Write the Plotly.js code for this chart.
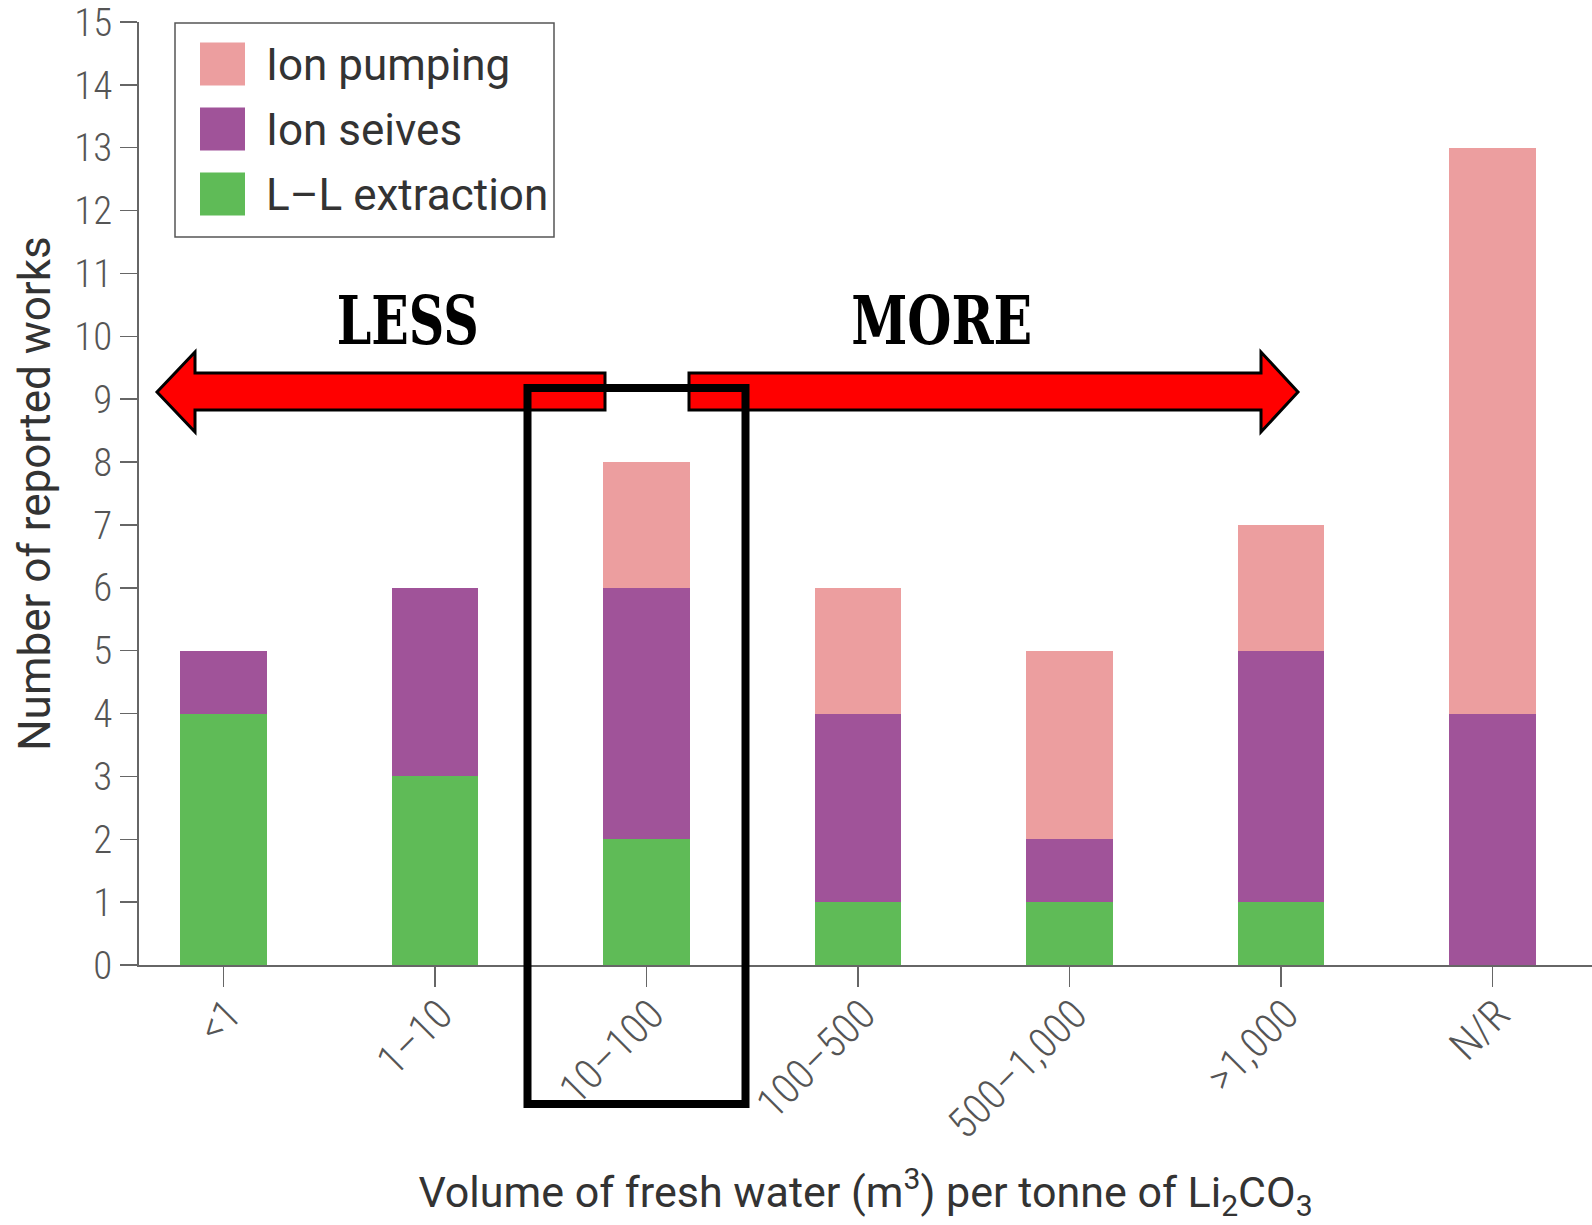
<!DOCTYPE html>
<html><head><meta charset="utf-8">
<script src="https://cdn.plot.ly/plotly-3.0.1.min.js"></script>
<style>html,body{margin:0;padding:0;background:#fff;} #chart{width:1592px;height:1225px;}</style>
</head><body><div id="chart"></div>
<script>
// ---- data ----
const categories = ["<1", "1–10", "10–100", "100–500", "500–1,000", ">1,000", "N/R"];
const llExtraction = [4, 3, 2, 1, 1, 1, 0];
const ionSeives   = [1, 3, 4, 3, 1, 4, 4];
const ionPumping  = [0, 0, 2, 2, 3, 2, 9];
const seriesNames = ["Ion pumping", "Ion seives", "L–L extraction"];
const seriesColors = ["#EC9E9F", "#A05399", "#5FBB57"];
const yTickVals = [0,1,2,3,4,5,6,7,8,9,10,11,12,13,14,15];
const xTitle = "Volume of fresh water (m<sup>3</sup>) per tonne of Li<sub>2</sub>CO<sub>3</sub>";
const yTitle = "Number of reported works";
const lessLabel = "LESS";
const moreLabel = "MORE";

// ---- layout geometry (pixels) ----
const W = 1592, H = 1225;
const mL = 139, mR = 0, mT = 22, mB = 260;
const pw = W - mL - mR, ph = H - mT - mB;
const px = x => (x - mL) / pw;
const py = y => (H - mB - y) / ph;

const NARROW = "Liberation Sans Narrow, Roboto Condensed, Roboto, Arial, sans-serif";
const REG = "Roboto, Liberation Sans, Arial, sans-serif";
const axisCol = "#666";

const traces = [
  {type: "bar", name: seriesNames[2], x: categories, y: llExtraction, marker: {color: seriesColors[2]}},
  {type: "bar", name: seriesNames[1], x: categories, y: ionSeives, marker: {color: seriesColors[1]}},
  {type: "bar", name: seriesNames[0], x: categories, y: ionPumping, marker: {color: seriesColors[0]}}
];

const shapes = [];
const annotations = [];

// legend box
shapes.push({type: "rect", xref: "paper", yref: "paper", x0: px(175), x1: px(554), y0: py(23), y1: py(237),
  line: {color: "#555", width: 1.5}, fillcolor: "rgba(0,0,0,0)"});
const rowY = [64, 129, 194];
for (let i = 0; i < 3; i++) {
  shapes.push({type: "rect", xref: "paper", yref: "paper", x0: px(200), x1: px(245),
    y0: py(rowY[i] - 21.5), y1: py(rowY[i] + 21.5), line: {width: 0}, fillcolor: seriesColors[i]});
  annotations.push({xref: "paper", yref: "paper", x: px(264), y: py(rowY[i] + 1), xanchor: "left", yanchor: "middle",
    text: seriesNames[i], showarrow: false, font: {family: REG, size: 44, color: "#333"}});
}

// arrows
const leftArrow = `M ${px(157)} ${py(392)} L ${px(195)} ${py(352)} L ${px(195)} ${py(373)} L ${px(605)} ${py(373)} L ${px(605)} ${py(410)} L ${px(195)} ${py(410)} L ${px(195)} ${py(432)} Z`;
const rightArrow = `M ${px(1298)} ${py(392)} L ${px(1261)} ${py(352)} L ${px(1261)} ${py(373)} L ${px(689)} ${py(373)} L ${px(689)} ${py(410)} L ${px(1261)} ${py(410)} L ${px(1261)} ${py(432)} Z`;
shapes.push({type: "path", xref: "paper", yref: "paper", path: leftArrow, fillcolor: "#FF0000", line: {color: "#000", width: 3}});
shapes.push({type: "path", xref: "paper", yref: "paper", path: rightArrow, fillcolor: "#FF0000", line: {color: "#000", width: 3}});

// highlight rectangle
shapes.push({type: "rect", xref: "paper", yref: "paper", x0: px(527.5), x1: px(745.5), y0: py(1104), y1: py(388),
  line: {color: "#000", width: 8}, fillcolor: "rgba(0,0,0,0)"});

const SERIF = "DejaVu Serif, Liberation Serif, serif";
annotations.push({xref: "paper", yref: "paper", x: px(407), y: py(320), xanchor: "center", yanchor: "middle",
  text: "<b>" + lessLabel + "</b>", showarrow: false, font: {family: SERIF, size: 67, color: "#000"}});
annotations.push({xref: "paper", yref: "paper", x: px(941), y: py(320), xanchor: "center", yanchor: "middle",
  text: "<b>" + moreLabel + "</b>", showarrow: false, font: {family: SERIF, size: 67, color: "#000"}});

const layout = {
  width: W, height: H,
  margin: {l: mL, r: mR, t: mT, b: mB, pad: 0},
  paper_bgcolor: "#fff", plot_bgcolor: "#fff",
  barmode: "stack", bargap: 0.59,
  showlegend: false,
  font: {family: REG, color: "#444"},
  xaxis: {
    type: "category", range: [-0.4, 6.47],
    showline: true, linecolor: axisCol, linewidth: 2,
    ticks: "outside", ticklen: 20, tickwidth: 1.5, tickcolor: axisCol,
    tickangle: -45, tickfont: {family: NARROW, size: 42, color: "#555", weight: 300},
    ticklabelstandoff: -14, ticklabelshift: 5,
    showgrid: false, zeroline: false,
    title: {text: xTitle, font: {family: REG, size: 43, color: "#333"}, standoff: 30}
  },
  yaxis: {
    range: [0, 15], tickvals: yTickVals, ticklabeloverflow: "allow",
    showline: true, linecolor: axisCol, linewidth: 2,
    ticks: "outside", ticklen: 17, tickwidth: 1.5, tickcolor: axisCol,
    tickfont: {family: NARROW, size: 39, color: "#555", weight: 300},
    showgrid: false, zeroline: false,
    title: {text: yTitle, font: {family: REG, size: 44, color: "#333"}, standoff: 10}
  },
  shapes: shapes,
  annotations: annotations
};

Plotly.newPlot("chart", traces, layout, {displayModeBar: false, staticPlot: true}).then(gd => {
  // condense the bold serif LESS / MORE labels to the reference proportions
  const targets = {3: 142, 4: 181};
  Object.keys(targets).forEach(k => {
    const t = gd.querySelector('g.annotation[data-index="' + k + '"] text.annotation-text');
    if (t) {
      t.setAttribute("textLength", targets[k]);
      t.setAttribute("lengthAdjust", "spacingAndGlyphs");
    }
  });
});
</script></body></html>
